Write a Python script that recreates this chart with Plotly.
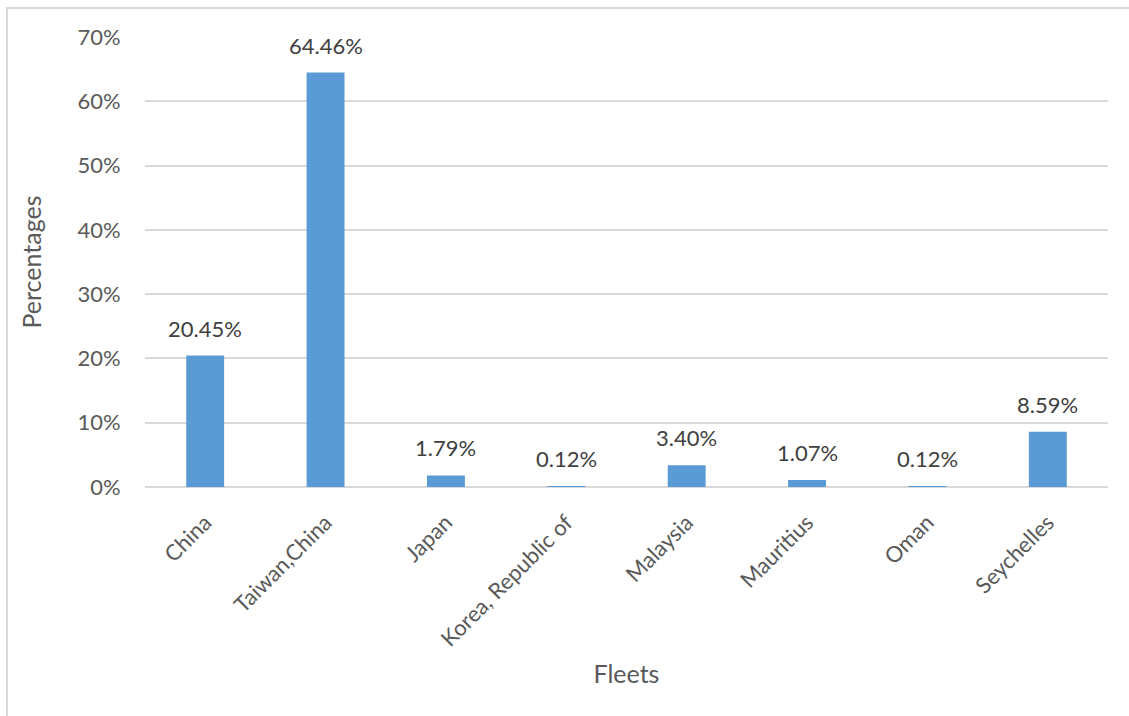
import plotly.graph_objects as go

fleets = ["China", "Taiwan,China", "Japan", "Korea, Republic of",
          "Malaysia", "Mauritius", "Oman", "Seychelles"]
percentages = [20.45, 64.46, 1.79, 0.12, 3.40, 1.07, 0.12, 8.59]
y_ticks = [0, 10, 20, 30, 40, 50, 60, 70]
y_tick_labels = ["0%", "10%", "20%", "30%", "40%", "50%", "60%", "70%"]

FONT = "Lato, Open Sans, sans-serif"
TXT = "#595959"

fig = go.Figure()
fig.add_trace(go.Bar(
    x=fleets, y=percentages,
    marker=dict(color="#5B9BD5", line=dict(width=0)),
    width=0.315,
    hoverinfo="x+y",
))

for f, v in zip(fleets, percentages):
    fig.add_annotation(
        x=f, y=v, text=f"{v:.2f}%", showarrow=False,
        yanchor="bottom", yshift=12,
        font=dict(family=FONT, size=22, color="#404040"),
    )

fig.update_layout(
    width=1129, height=716,
    margin=dict(l=145, r=21, t=37, b=229, autoexpand=False),
    paper_bgcolor="white", plot_bgcolor="white",
    showlegend=False,
    font=dict(family=FONT, size=22, color=TXT),
    xaxis=dict(
        type="category",
        tickangle=-45,
        tickfont=dict(family=FONT, size=22, color=TXT),
        ticks="outside", ticklen=13, tickcolor="rgba(0,0,0,0)",
        showgrid=False, showline=False, zeroline=False,
        automargin=False,
        title=dict(text="Fleets", font=dict(family=FONT, size=25, color=TXT), standoff=14),
    ),
    yaxis=dict(
        range=[0, 70],
        tickvals=y_ticks, ticktext=y_tick_labels,
        tickfont=dict(family=FONT, size=22, color=TXT),
        ticks="outside", ticklen=19, tickcolor="rgba(0,0,0,0)",
        showgrid=True, gridcolor="#d9d9d9", gridwidth=2,
        zeroline=True, zerolinecolor="#d9d9d9", zerolinewidth=2,
        showline=False,
        automargin=False,
        title=dict(text="Percentages", font=dict(family=FONT, size=25, color=TXT), standoff=28),
    ),
    shapes=[dict(
        type="rect", xref="paper", yref="paper",
        x0=(7 - 145) / 963, x1=(1140 - 145) / 963,
        y0=(487 - 730) / 450, y1=(487 - 8) / 450,
        line=dict(color="#d9d9d9", width=2), fillcolor="rgba(0,0,0,0)",
        layer="below",
    )],
)

fig.write_html("out.html")
